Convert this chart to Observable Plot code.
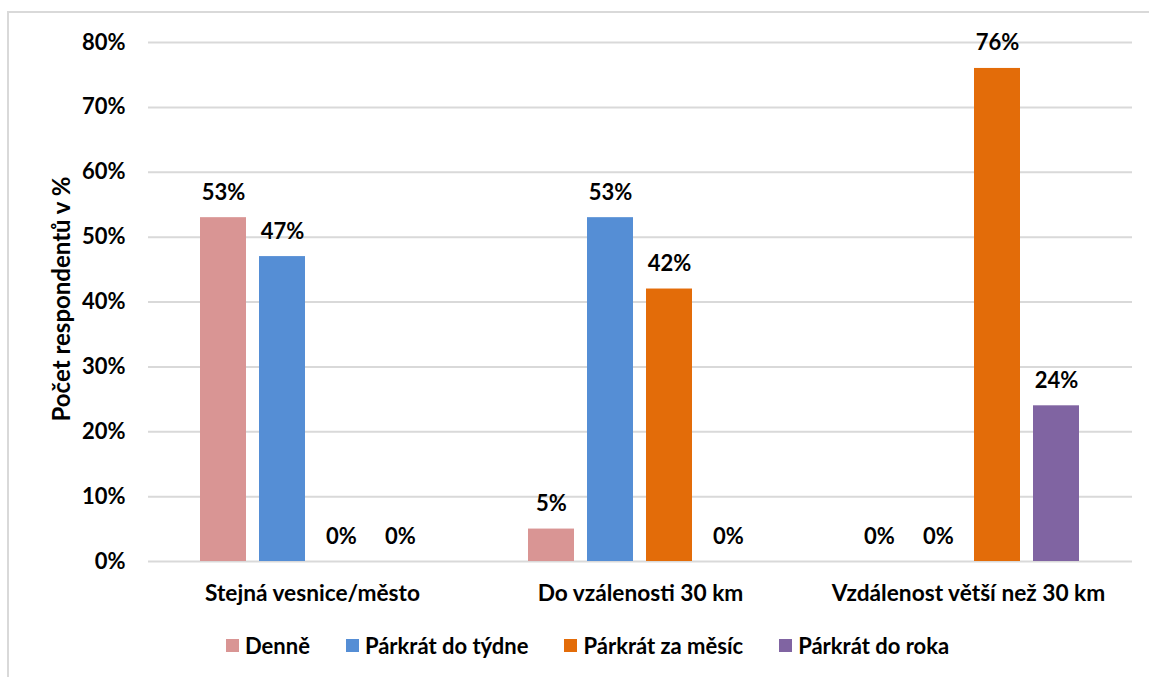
<!DOCTYPE html>
<html><head><meta charset="utf-8">
<script src="https://cdn.jsdelivr.net/npm/d3@7"></script>
<script src="https://cdn.jsdelivr.net/npm/@observablehq/plot@0.6"></script>
<style>
html,body{margin:0;padding:0;background:#fff;}
body{width:1149px;height:677px;position:relative;overflow:hidden;font-family:Lato,"Open Sans",sans-serif;}
#frame{position:absolute;left:7px;top:11px;width:1200px;height:700px;border-top:2px solid #d9d9d9;border-left:2px solid #d9d9d9;box-sizing:border-box;}
#chart{position:absolute;left:0;top:0;}
#legend{position:absolute;top:632px;left:226px;display:flex;align-items:center;font-weight:700;font-size:22px;color:#000;}
#legend .item{display:flex;align-items:center;margin-right:36px;}
#legend .sw{width:13px;height:13px;margin-right:6px;}
</style>
</head><body>
<div id="frame"></div>
<div id="chart"></div>
<div id="legend"></div>
<script>
const categories = ["Stejná vesnice/město", "Do vzálenosti 30 km", "Vzdálenost větší než 30 km"];
const series = ["Denně", "Párkrát do týdne", "Párkrát za měsíc", "Párkrát do roka"];
const colors = ["#D99594", "#558ED5", "#E36C09", "#8064A2"];
const denne = [53, 5, 0];
const tydne = [47, 53, 0];
const mesic = [0, 42, 76];
const roka = [0, 0, 24];
const yTicks = [0, 10, 20, 30, 40, 50, 60, 70, 80];
const yTitle = "Počet respondentů v %";

const seriesValues = [denne, tydne, mesic, roka];
const data = [];
categories.forEach((c, ci) => {
  series.forEach((s, si) => {
    data.push({cat: c, series: s, value: seriesValues[si][ci]});
  });
});

const chart = Plot.plot({
  width: 1149,
  height: 620,
  marginLeft: 147,
  marginRight: 17,
  marginTop: 42,
  marginBottom: 59,
  style: {fontFamily: "Lato, 'Open Sans', sans-serif", fontWeight: "bold", color: "#000", background: "transparent"},
  fx: {domain: categories, padding: 0, label: null, axis: null},
  x: {domain: series, paddingInner: 0.217, paddingOuter: 0.843, axis: null},
  y: {domain: [0, 80], label: null, axis: null},
  color: {domain: series, range: colors},
  marks: [
    Plot.ruleY(yTicks, {stroke: "#d9d9d9", strokeWidth: 2}),
    Plot.barY(data, {fx: "cat", x: "series", y: "value", fill: "series"}),
    Plot.text(data, {fx: "cat", x: "series", y: "value", text: d => d.value + "%", dy: -25, fontSize: 22, fontWeight: "bold", fill: "#000"}),
    Plot.axisY(yTicks, {tickSize: 0, tickPadding: 23, tickFormat: d => d + "%", fontSize: 22, fontWeight: "bold", label: null}),
    Plot.text([yTitle], {fx: () => categories[0], text: d => d, frameAnchor: "left", textAnchor: "middle", rotate: -90, dx: -86, dy: -3, fontSize: 24, fontWeight: "bold", fill: "#000"}),
    Plot.axisFx({anchor: "bottom", tickSize: 0, tickPadding: 23, fontSize: 22.7, fontWeight: "bold", label: null})
  ]
});
document.getElementById("chart").appendChild(chart);

const legend = document.getElementById("legend");
series.forEach((s, i) => {
  const item = document.createElement("div");
  item.className = "item";
  const sw = document.createElement("div");
  sw.className = "sw";
  sw.style.background = colors[i];
  const t = document.createElement("span");
  t.textContent = s;
  item.appendChild(sw);
  item.appendChild(t);
  legend.appendChild(item);
});
</script>
</body></html>
